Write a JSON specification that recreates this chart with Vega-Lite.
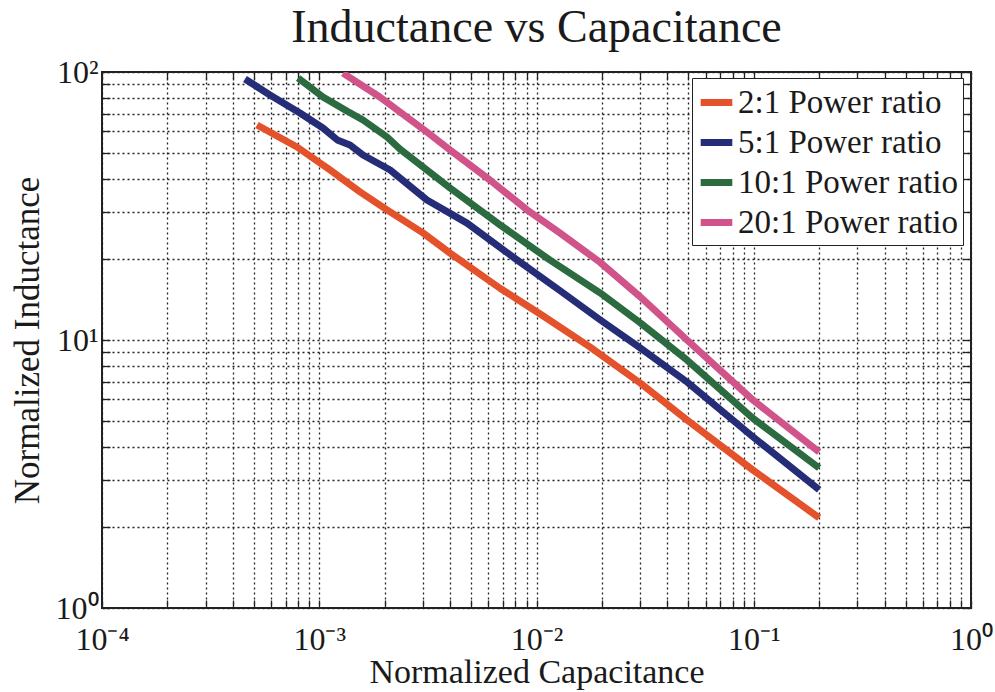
{
  "$schema": "https://vega.github.io/schema/vega-lite/v6.json",
  "width": 869,
  "height": 536,
  "autosize": {"type": "none"},
  "padding": {"left": 102, "top": 72, "right": 24, "bottom": 84},
  "background": "white",
  "title": {
    "text": "Inductance vs Capacitance",
    "font": "Liberation Serif",
    "fontSize": 46,
    "fontWeight": "normal",
    "color": "#1a1a1a",
    "anchor": "middle",
    "frame": "group",
    "offset": 4
  },
  "config": {
    "view": {"stroke": "#222222", "strokeWidth": 2},
    "font": "Liberation Serif"
  },
  "data": {
    "values": [
      {"C": 0.000517, "L": 63.4, "ratio": "2:1 Power ratio"},
      {"C": 0.00079, "L": 52.5, "ratio": "2:1 Power ratio"},
      {"C": 0.00112, "L": 43.1, "ratio": "2:1 Power ratio"},
      {"C": 0.00154, "L": 35.7, "ratio": "2:1 Power ratio"},
      {"C": 0.00205, "L": 30.6, "ratio": "2:1 Power ratio"},
      {"C": 0.003, "L": 25.1, "ratio": "2:1 Power ratio"},
      {"C": 0.004, "L": 21.1, "ratio": "2:1 Power ratio"},
      {"C": 0.00679, "L": 15.6, "ratio": "2:1 Power ratio"},
      {"C": 0.0104, "L": 12.5, "ratio": "2:1 Power ratio"},
      {"C": 0.0176, "L": 9.42, "ratio": "2:1 Power ratio"},
      {"C": 0.03, "L": 6.91, "ratio": "2:1 Power ratio"},
      {"C": 0.0493, "L": 5.03, "ratio": "2:1 Power ratio"},
      {"C": 0.0992, "L": 3.27, "ratio": "2:1 Power ratio"},
      {"C": 0.2, "L": 2.17, "ratio": "2:1 Power ratio"},

      {"C": 0.000455, "L": 94.2, "ratio": "5:1 Power ratio"},
      {"C": 0.000593, "L": 82.1, "ratio": "5:1 Power ratio"},
      {"C": 0.000815, "L": 70.3, "ratio": "5:1 Power ratio"},
      {"C": 0.00104, "L": 61.8, "ratio": "5:1 Power ratio"},
      {"C": 0.00121, "L": 55.8, "ratio": "5:1 Power ratio"},
      {"C": 0.001385, "L": 53.4, "ratio": "5:1 Power ratio"},
      {"C": 0.00159, "L": 49.0, "ratio": "5:1 Power ratio"},
      {"C": 0.00212, "L": 43.1, "ratio": "5:1 Power ratio"},
      {"C": 0.00313, "L": 33.3, "ratio": "5:1 Power ratio"},
      {"C": 0.00479, "L": 27.3, "ratio": "5:1 Power ratio"},
      {"C": 0.00813, "L": 19.9, "ratio": "5:1 Power ratio"},
      {"C": 0.0128, "L": 15.3, "ratio": "5:1 Power ratio"},
      {"C": 0.0196, "L": 11.9, "ratio": "5:1 Power ratio"},
      {"C": 0.03, "L": 9.35, "ratio": "5:1 Power ratio"},
      {"C": 0.0493, "L": 6.97, "ratio": "5:1 Power ratio"},
      {"C": 0.0992, "L": 4.35, "ratio": "5:1 Power ratio"},
      {"C": 0.2, "L": 2.76, "ratio": "5:1 Power ratio"},

      {"C": 0.000799, "L": 95.0, "ratio": "10:1 Power ratio"},
      {"C": 0.00104, "L": 80.7, "ratio": "10:1 Power ratio"},
      {"C": 0.00134, "L": 71.5, "ratio": "10:1 Power ratio"},
      {"C": 0.00159, "L": 66.2, "ratio": "10:1 Power ratio"},
      {"C": 0.00205, "L": 57.2, "ratio": "10:1 Power ratio"},
      {"C": 0.00235, "L": 51.6, "ratio": "10:1 Power ratio"},
      {"C": 0.004, "L": 36.9, "ratio": "10:1 Power ratio"},
      {"C": 0.00679, "L": 26.9, "ratio": "10:1 Power ratio"},
      {"C": 0.0115, "L": 19.9, "ratio": "10:1 Power ratio"},
      {"C": 0.0196, "L": 15.0, "ratio": "10:1 Power ratio"},
      {"C": 0.03, "L": 11.6, "ratio": "10:1 Power ratio"},
      {"C": 0.0493, "L": 8.42, "ratio": "10:1 Power ratio"},
      {"C": 0.0992, "L": 5.1, "ratio": "10:1 Power ratio"},
      {"C": 0.2, "L": 3.33, "ratio": "10:1 Power ratio"},

      {"C": 0.001286, "L": 99.0, "ratio": "20:1 Power ratio"},
      {"C": 0.0019, "L": 80.7, "ratio": "20:1 Power ratio"},
      {"C": 0.00313, "L": 59.7, "ratio": "20:1 Power ratio"},
      {"C": 0.004, "L": 51.2, "ratio": "20:1 Power ratio"},
      {"C": 0.00611, "L": 39.5, "ratio": "20:1 Power ratio"},
      {"C": 0.00904, "L": 30.6, "ratio": "20:1 Power ratio"},
      {"C": 0.0128, "L": 25.1, "ratio": "20:1 Power ratio"},
      {"C": 0.0196, "L": 19.5, "ratio": "20:1 Power ratio"},
      {"C": 0.03, "L": 14.5, "ratio": "20:1 Power ratio"},
      {"C": 0.0493, "L": 10.0, "ratio": "20:1 Power ratio"},
      {"C": 0.0992, "L": 5.97, "ratio": "20:1 Power ratio"},
      {"C": 0.2, "L": 3.82, "ratio": "20:1 Power ratio"}
    ]
  },
  "layer": [
    {
      "mark": {"type": "line", "strokeWidth": 7, "strokeJoin": "round", "clip": true},
      "encoding": {
        "x": {
          "field": "C",
          "type": "quantitative",
          "scale": {"type": "log", "domain": [0.0001, 1], "nice": false},
          "axis": {
            "orient": "bottom",
            "values": [0.0001, 0.0002, 0.0003, 0.0004, 0.0005, 0.0006, 0.0007, 0.0008, 0.0009,
                       0.001, 0.002, 0.003, 0.004, 0.005, 0.006, 0.007, 0.008, 0.009,
                       0.01, 0.02, 0.03, 0.04, 0.05, 0.06, 0.07, 0.08, 0.09,
                       0.1, 0.2, 0.3, 0.4, 0.5, 0.6, 0.7, 0.8, 0.9, 1],
            "labelExpr": "datum.value == 0.0001 ? '10⁻⁴' : datum.value == 0.001 ? '10⁻³' : datum.value == 0.01 ? '10⁻²' : datum.value == 0.1 ? '10⁻¹' : datum.value == 1 ? '10⁰' : ''",
            "title": "Normalized Capacitance",
            "titleFont": "Liberation Serif",
            "titleFontSize": 34,
            "titleFontWeight": "normal",
            "titleColor": "#1a1a1a",
            "titlePadding": 0,
            "labelFont": "Liberation Serif",
            "labelFontSize": 32,
            "labelColor": "#1a1a1a",
            "labelPadding": 24,
            "labelFlush": false,
            "labelOverlap": false,
            "labelBound": false,
            "domain": false,
            "ticks": true,
            "tickSize": -8,
            "tickColor": "#222222",
            "tickWidth": 1.3,
            "grid": true,
            "gridColor": "#222222",
            "gridDash": [2, 3],
            "gridWidth": 1.3,
            "gridOpacity": 1
          }
        },
        "y": {
          "field": "L",
          "type": "quantitative",
          "scale": {"type": "log", "domain": [1, 100], "nice": false},
          "axis": {
            "orient": "left",
            "values": [1, 2, 3, 4, 5, 6, 7, 8, 9, 10, 20, 30, 40, 50, 60, 70, 80, 90, 100],
            "labelExpr": "datum.value == 1 ? '10⁰' : datum.value == 10 ? '10¹' : datum.value == 100 ? '10²' : ''",
            "title": "Normalized Inductance",
            "titleFont": "Liberation Serif",
            "titleFontSize": 35,
            "titleFontWeight": "normal",
            "titleColor": "#1a1a1a",
            "titlePadding": 10,
            "labelFont": "Liberation Serif",
            "labelFontSize": 32,
            "labelColor": "#1a1a1a",
            "labelPadding": 12,
            "labelBaseline": "middle",
            "labelFlush": false,
            "labelOverlap": false,
            "labelBound": false,
            "domain": false,
            "ticks": true,
            "tickSize": -8,
            "tickColor": "#222222",
            "tickWidth": 1.3,
            "grid": true,
            "gridColor": "#222222",
            "gridDash": [2, 3],
            "gridWidth": 1.3,
            "gridOpacity": 1
          }
        },
        "color": {
          "field": "ratio",
          "type": "nominal",
          "scale": {
            "domain": ["2:1 Power ratio", "5:1 Power ratio", "10:1 Power ratio", "20:1 Power ratio"],
            "range": ["#e4522c", "#262d78", "#2c6b40", "#d0538a"]
          },
          "legend": {
            "orient": "none",
            "legendX": 590,
            "legendY": 6,
            "title": null,
            "labelFont": "Liberation Serif",
            "labelFontSize": 33,
            "labelColor": "#1a1a1a",
            "labelLimit": 400,
            "labelOffset": 2,
            "symbolType": "stroke",
            "symbolSize": 1000,
            "symbolStrokeWidth": 7,
            "strokeColor": "#222222",
            "fillColor": "white",
            "padding": 5,
            "rowPadding": 3
          }
        }
      }
    },
    {
      "mark": {"type": "point", "opacity": 0},
      "encoding": {
        "x": {
          "field": "C",
          "type": "quantitative",
          "axis": {
            "orient": "top",
            "values": [0.0001, 0.0002, 0.0003, 0.0004, 0.0005, 0.0006, 0.0007, 0.0008, 0.0009,
                       0.001, 0.002, 0.003, 0.004, 0.005, 0.006, 0.007, 0.008, 0.009,
                       0.01, 0.02, 0.03, 0.04, 0.05, 0.06, 0.07, 0.08, 0.09,
                       0.1, 0.2, 0.3, 0.4, 0.5, 0.6, 0.7, 0.8, 0.9, 1],
            "labels": false,
            "title": null,
            "domain": false,
            "grid": false,
            "ticks": true,
            "tickSize": -8,
            "tickColor": "#222222",
            "tickWidth": 1.3
          }
        },
        "y": {
          "field": "L",
          "type": "quantitative",
          "axis": {
            "orient": "right",
            "values": [1, 2, 3, 4, 5, 6, 7, 8, 9, 10, 20, 30, 40, 50, 60, 70, 80, 90, 100],
            "labels": false,
            "title": null,
            "domain": false,
            "grid": false,
            "ticks": true,
            "tickSize": -8,
            "tickColor": "#222222",
            "tickWidth": 1.3
          }
        }
      }
    }
  ],
  "resolve": {"axis": {"x": "independent", "y": "independent"}}
}
